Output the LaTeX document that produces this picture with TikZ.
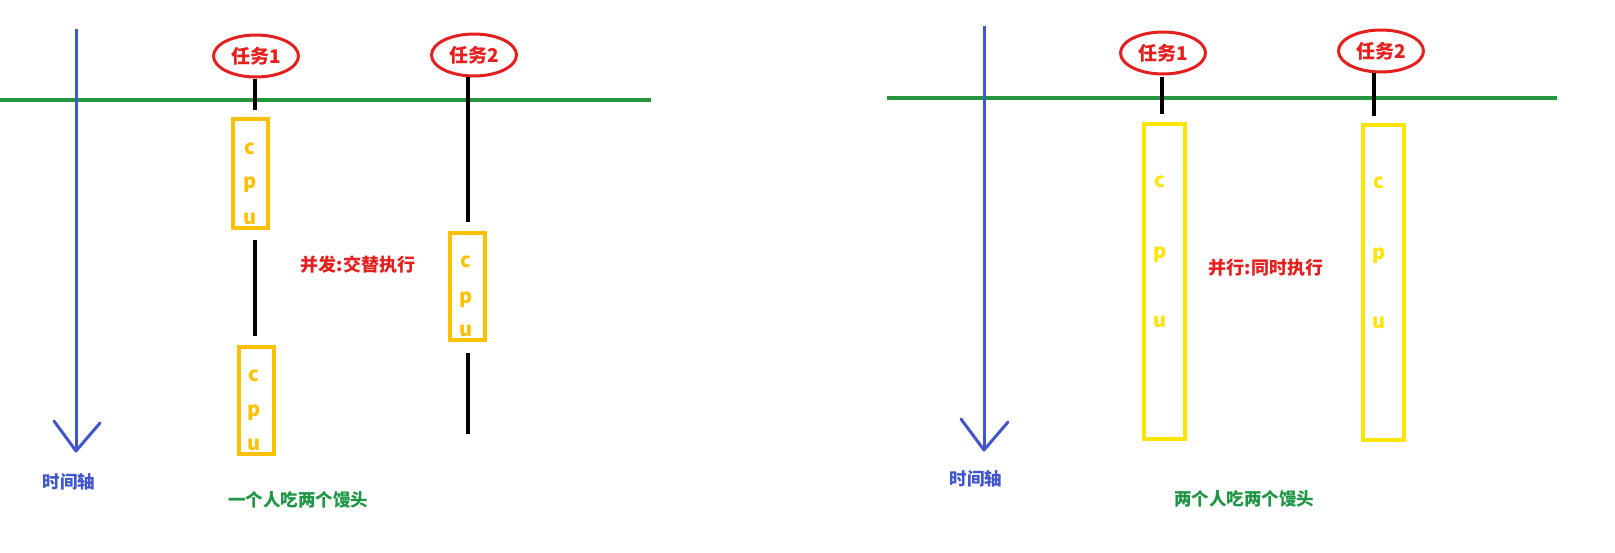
\documentclass[tikz,border=0pt]{standalone}
\usepackage{fontspec}
\setmainfont{Noto Sans CJK SC}
\usetikzlibrary{shapes.geometric}
\definecolor{lineG}{RGB}{36,150,62}
\definecolor{axisB}{RGB}{66,86,204}
\definecolor{taskR}{RGB}{228,32,30}
\definecolor{cpuO}{RGB}{255,192,0}
\definecolor{cpuY}{RGB}{255,228,0}
\definecolor{txtG}{RGB}{30,150,70}
\tikzset{
  task/.style={ellipse,draw=taskR,line width=3pt,minimum width=85pt,minimum height=42pt,inner sep=0pt,
    text=taskR,font=\bfseries\fontsize{19}{22}\selectfont},
  link/.style={line width=4pt,black},
  cpubox/.style={rectangle,draw=#1,line width=4pt,inner sep=0pt},
  cpuletter/.style={anchor=base,text=#1,inner sep=0pt,font=\bfseries\fontsize{20}{22}\selectfont},
  axis/.style={axisB,line width=3pt},
  axislabel/.style={text=axisB,font=\bfseries\fontsize{17.5}{20}\selectfont},
  caption/.style={text=txtG,font=\bfseries\fontsize{17.5}{20}\selectfont},
  note/.style={text=taskR,font=\bfseries\fontsize{18}{20}\selectfont},
  timeline/.style={lineG,line width=4pt}
}
\begin{document}
\begin{tikzpicture}[x=1pt,y=-1pt]
\useasboundingbox[fill=white] (0,0) rectangle (1615,552);

% ===== left panel =====
\coordinate (gl1) at (0,100);
\coordinate (gl2) at (651,100);
\draw[timeline] (gl1) -- (gl2);

\coordinate (ax1top) at (76,29);
\coordinate (ax1tip) at (76,451);
\coordinate (ax1l) at (54,421);
\coordinate (ax1r) at (100,423);
\draw[axis] (ax1top) -- (ax1tip);
\draw[axis,line cap=round,line join=round] (ax1l) -- (ax1tip) -- (ax1r);
\node[axislabel] (ax1lab) at (69,482) {时间轴};

\node[task] (t1) at (256,56) {任务1};
\node[task] (t2) at (474,55) {任务2};

\node[cpubox=cpuO,minimum width=35pt,minimum height=109pt] (c1a) at (250.5,173.5) {};
\node[cpubox=cpuO,minimum width=35pt,minimum height=107pt] (c1b) at (256.5,400.5) {};
\node[cpubox=cpuO,minimum width=35pt,minimum height=107pt] (c2) at (467.5,286.5) {};

\foreach \l/\y [count=\i] in {c/154,p/188,u/224} \node[cpuletter=cpuO] (c1a\i) at (250,\y) {\l};
\foreach \l/\y [count=\i] in {c/381,p/416,u/450} \node[cpuletter=cpuO] (c1b\i) at (254,\y) {\l};
\foreach \l/\y [count=\i] in {c/267,p/303,u/336} \node[cpuletter=cpuO] (c2\i) at (466,\y) {\l};

\coordinate (l1s) at (255,79);
\coordinate (l1a) at (255,110);
\coordinate (l1b) at (255,240);
\coordinate (l1c) at (255,336);
\draw[link] (l1s) -- (l1a);
\draw[link] (l1b) -- (l1c);
\coordinate (l2s) at (467.5,77);
\coordinate (l2a) at (467.5,222);
\coordinate (l2b) at (467.5,353);
\coordinate (l2c) at (467.5,434);
\draw[link] (l2s) -- (l2a);
\draw[link] (l2b) -- (l2c);

\node[note] (n1) at (358,265) {并发:交替执行};
\node[caption] (cap1) at (298,500) {一个人吃两个馒头};

% ===== right panel =====
\coordinate (gr1) at (887,98);
\coordinate (gr2) at (1557,98);
\draw[timeline] (gr1) -- (gr2);

\coordinate (ax2top) at (984,26);
\coordinate (ax2tip) at (984,450);
\coordinate (ax2l) at (961,419);
\coordinate (ax2r) at (1008,422);
\draw[axis] (ax2top) -- (ax2tip);
\draw[axis,line cap=round,line join=round] (ax2l) -- (ax2tip) -- (ax2r);
\node[axislabel] (ax2lab) at (976,479) {时间轴};

\node[task] (t3) at (1163,53) {任务1};
\node[task] (t4) at (1381,51) {任务2};

\node[cpubox=cpuY,minimum width=41pt,minimum height=315pt] (r1) at (1164.5,281.5) {};
\node[cpubox=cpuY,minimum width=41pt,minimum height=315pt] (r2) at (1383.5,282.5) {};

\foreach \l/\y [count=\i] in {c/187,p/258,u/327} \node[cpuletter=cpuY] (r1\i) at (1160,\y) {\l};
\foreach \l/\y [count=\i] in {c/188,p/259,u/328} \node[cpuletter=cpuY] (r2\i) at (1379,\y) {\l};

\coordinate (l3a) at (1162,77);
\coordinate (l3b) at (1162,114);
\draw[link] (l3a) -- (l3b);
\coordinate (l4a) at (1373.5,73);
\coordinate (l4b) at (1373.5,116);
\draw[link] (l4a) -- (l4b);

\node[note] (n2) at (1266,268) {并行:同时执行};
\node[caption] (cap2) at (1244,499) {两个人吃两个馒头};
\end{tikzpicture}
\end{document}
